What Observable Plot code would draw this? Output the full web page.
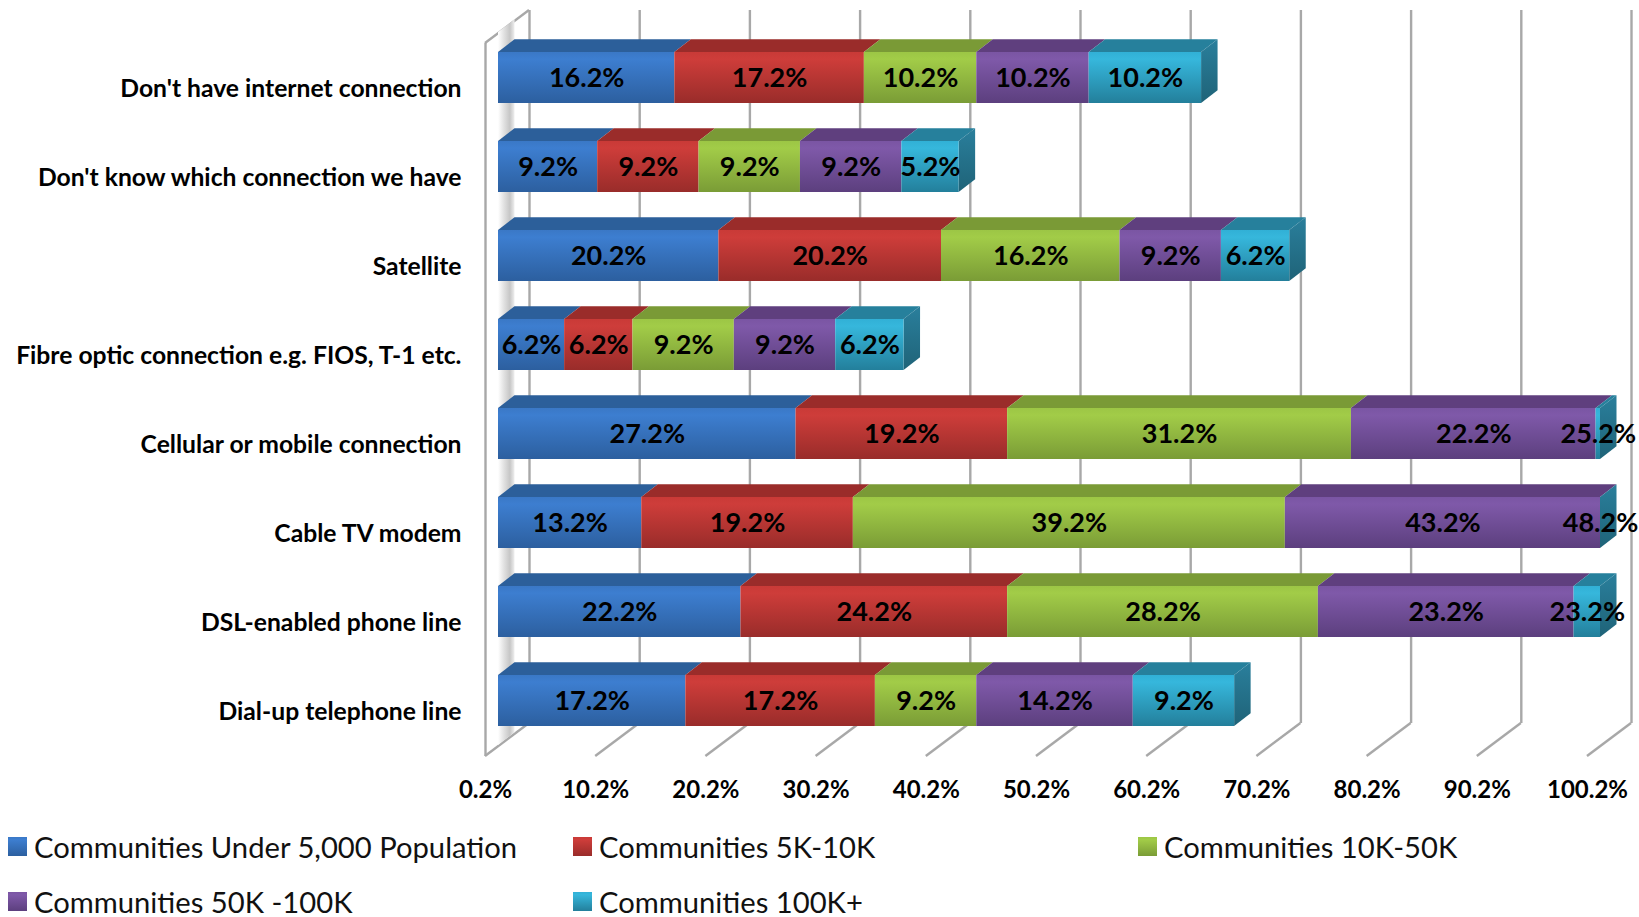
<!DOCTYPE html>
<html>
<head>
<meta charset="utf-8">
<script src="https://cdn.jsdelivr.net/npm/d3@7"></script>
<script src="https://cdn.jsdelivr.net/npm/@observablehq/plot@0.6"></script>
<style>
  html, body { margin: 0; padding: 0; background: #fff; }
  #chart svg { display: block; }
  #legend { position: relative; height: 97px; font: 400 29.2px Lato, sans-serif; color: #111; }
  .item { position: absolute; display: flex; align-items: center; white-space: nowrap; height: 30px; }
  .swatch { width: 19px; height: 19px; margin-right: 7px; flex: none; }
</style>
</head>
<body>
<div id="chart"></div>
<div id="legend"></div>
<script>
// Connection types, top row first
const categories = [
  "Don't have internet connection",
  "Don't know which connection we have",
  "Satellite",
  "Fibre optic connection e.g. FIOS, T-1 etc.",
  "Cellular or mobile connection",
  "Cable TV modem",
  "DSL-enabled phone line",
  "Dial-up telephone line"
];
const seriesNames = [
  "Communities Under 5,000 Population",
  "Communities 5K-10K",
  "Communities 10K-50K",
  "Communities 50K -100K",
  "Communities 100K+"
];
const under5k = [16.2, 9.2, 20.2, 6.2, 27.2, 13.2, 22.2, 17.2];
const from5kTo10k = [17.2, 9.2, 20.2, 6.2, 19.2, 19.2, 24.2, 17.2];
const from10kTo50k = [10.2, 9.2, 16.2, 9.2, 31.2, 39.2, 28.2, 9.2];
const from50kTo100k = [10.2, 9.2, 9.2, 9.2, 22.2, 43.2, 23.2, 14.2];
const over100k = [10.2, 5.2, 6.2, 6.2, 25.2, 48.2, 23.2, 9.2];
const xTicks = [0.2, 10.2, 20.2, 30.2, 40.2, 50.2, 60.2, 70.2, 80.2, 90.2, 100.2];

// Face colours per series: gradient stops of the front, then top and side faces
const faceStops = [
  ["#3a78c6", "#3d7ed0", "#2c5f9f"],
  ["#c93a37", "#ce3d3a", "#992c2a"],
  ["#9cc645", "#a2cc48", "#7a9c36"],
  ["#7a55a3", "#7f59a9", "#5c3f7e"],
  ["#31b0d6", "#36b7dc", "#237f9b"]
];
const topColors = ["#2c5f9a", "#9a2c2a", "#7a9a36", "#5f3f7e", "#26809c"];
const sideColor = ["#2a7f9c", "#1f6378"];
const gridColor = "#a8a8a8";

// Box depth: wall-to-wall offset, and how far the bars sit inside it
const wall = {dx: 44, dy: -33};
const plane = {dx: 13, dy: -11};
const depth = {dx: 16.5, dy: -12.7};

const axisMin = xTicks[0];
const axisMax = xTicks[xTicks.length - 1];
const seriesValues = [under5k, from5kTo10k, from10kTo50k, from50kTo100k, over100k];

// Stack each row from zero and clip every segment to the axis extent
const segments = [];
categories.forEach((category, row) => {
  let sum = 0;
  seriesValues.forEach((values, s) => {
    const value = values[row];
    const x1 = Math.min(axisMax, Math.max(axisMin, sum));
    const x2 = Math.min(axisMax, Math.max(axisMin, sum + value));
    segments.push({category, series: seriesNames[s], s, value, x1, x2});
    sum += value;
  });
});

const points = (pts) => pts.map((p) => p.join(",")).join(" ");

const defs = () => {
  const d = d3.create("svg:defs");
  faceStops.forEach((stops, i) => {
    const g = d.append("linearGradient").attr("id", `front${i}`).attr("x1", 0).attr("x2", 0).attr("y1", 0).attr("y2", 1);
    g.append("stop").attr("offset", "0%").attr("stop-color", stops[0]);
    g.append("stop").attr("offset", "14%").attr("stop-color", stops[1]);
    g.append("stop").attr("offset", "100%").attr("stop-color", stops[2]);
  });
  const side = d.append("linearGradient").attr("id", "side").attr("x1", 0).attr("x2", 0).attr("y1", 0).attr("y2", 1);
  side.append("stop").attr("offset", "0%").attr("stop-color", sideColor[0]);
  side.append("stop").attr("offset", "100%").attr("stop-color", sideColor[1]);
  const strip = d.append("linearGradient").attr("id", "strip");
  strip.append("stop").attr("offset", "0%").attr("stop-color", "#ffffff");
  strip.append("stop").attr("offset", "35%").attr("stop-color", "#e2e2e2");
  strip.append("stop").attr("offset", "72%").attr("stop-color", "#c6c6c6");
  strip.append("stop").attr("offset", "100%").attr("stop-color", "#efefef");
  return d.node();
};

// The wall's top and floor edges, drawn from the front plane to the back plane
const wallEdges = (_, {x, y}) => {
  const g = d3.create("svg:g").attr("stroke", gridColor).attr("stroke-width", 2.4).attr("fill", "none");
  const [top, bottom] = y.range();
  for (const t of xTicks) {
    g.append("line").attr("x1", x(t)).attr("y1", bottom).attr("x2", x(t) + wall.dx).attr("y2", bottom + wall.dy);
  }
  g.append("line").attr("x1", x(axisMin)).attr("y1", top).attr("x2", x(axisMin) + wall.dx).attr("y2", top + wall.dy);
  return g.node();
};

// The shaded strip behind the bars' left ends
const leftStrip = (_, {x, y}) => {
  const [top, bottom] = y.range();
  const x0 = x(axisMin) + plane.dx;
  return d3.create("svg:polygon")
    .attr("fill", "url(#strip)")
    .attr("points", points([
      [x0, top + plane.dy],
      [x0 + depth.dx, top + plane.dy + depth.dy],
      [x0 + depth.dx, bottom + plane.dy + depth.dy],
      [x0, bottom + plane.dy]
    ])).node();
};

// Top faces of all segments and the right face at the end of each row
const barDepth = (_, {x, y}) => {
  const g = d3.create("svg:g");
  for (const d of segments) {
    if (d.x2 <= d.x1) continue;
    const yTop = y(d.category) + plane.dy;
    const a = x(d.x1) + plane.dx;
    const b = x(d.x2) + plane.dx;
    g.append("polygon").attr("fill", topColors[d.s]).attr("points", points([
      [a, yTop], [b, yTop], [b + depth.dx, yTop + depth.dy], [a + depth.dx, yTop + depth.dy]
    ]));
  }
  for (const category of categories) {
    const end = d3.max(segments.filter((d) => d.category === category), (d) => d.x2);
    const r = x(end) + plane.dx;
    const yTop = y(category) + plane.dy;
    const yBottom = yTop + y.bandwidth();
    g.append("polygon").attr("fill", "url(#side)").attr("points", points([
      [r, yTop], [r + depth.dx, yTop + depth.dy], [r + depth.dx, yBottom + depth.dy], [r, yBottom]
    ]));
  }
  return g.node();
};

const chart = Plot.plot({
  width: 1639,
  height: 820,
  marginLeft: 485,
  marginRight: 52,
  marginTop: 43,
  marginBottom: 64,
  style: {background: "#fff", fontFamily: "Lato, sans-serif"},
  x: {domain: [axisMin, axisMax]},
  y: {domain: categories, paddingInner: 0.43, paddingOuter: 0.215, align: 0.5},
  color: {domain: seriesNames, range: seriesNames.map((_, i) => `url(#front${i})`)},
  marks: [
    defs,
    // Back wall gridlines
    Plot.ruleX(xTicks, {stroke: gridColor, strokeWidth: 2.4, dx: wall.dx, dy: wall.dy}),
    // Front edge of the left wall
    Plot.ruleX([axisMin], {stroke: gridColor, strokeWidth: 2.4}),
    wallEdges,
    leftStrip,
    barDepth,
    Plot.rectX(segments.filter((d) => d.x2 > d.x1), {
      x1: "x1", x2: "x2", y: "category", fill: "series", dx: plane.dx, dy: plane.dy
    }),
    Plot.text(segments, {
      x: (d) => (d.x1 + d.x2) / 2,
      y: "category",
      text: (d) => d.value.toFixed(1) + "%",
      dx: plane.dx,
      dy: plane.dy,
      fill: "#000",
      fontSize: 27,
      fontWeight: 700,
      fontFamily: "Lato, sans-serif"
    }),
    Plot.axisY({
      anchor: "left", label: null, tickSize: 0, tickPadding: 24,
      fontSize: 24.7, fontWeight: 700, fill: "#000", fontFamily: "Lato, sans-serif"
    }),
    Plot.axisX({
      anchor: "bottom", label: null, ticks: xTicks, tickSize: 0, tickPadding: 24,
      tickFormat: (d) => d.toFixed(1) + "%",
      fontSize: 24, fontWeight: 700, fill: "#000", fontFamily: "Lato, sans-serif"
    })
  ]
});
document.getElementById("chart").append(chart);

// Legend: two rows on three fixed columns
const legendColumns = [8, 573, 1138];
const legend = d3.select("#legend");
seriesNames.forEach((name, i) => {
  const item = legend.append("div").attr("class", "item")
    .style("left", legendColumns[i % 3] + "px")
    .style("top", (i < 3 ? 11 : 66) + "px");
  const [a, b, c] = faceStops[i];
  item.append("span").attr("class", "swatch")
    .style("background", `linear-gradient(${a}, ${b} 14%, ${c})`);
  item.append("span").text(name);
});
</script>
</body>
</html>
